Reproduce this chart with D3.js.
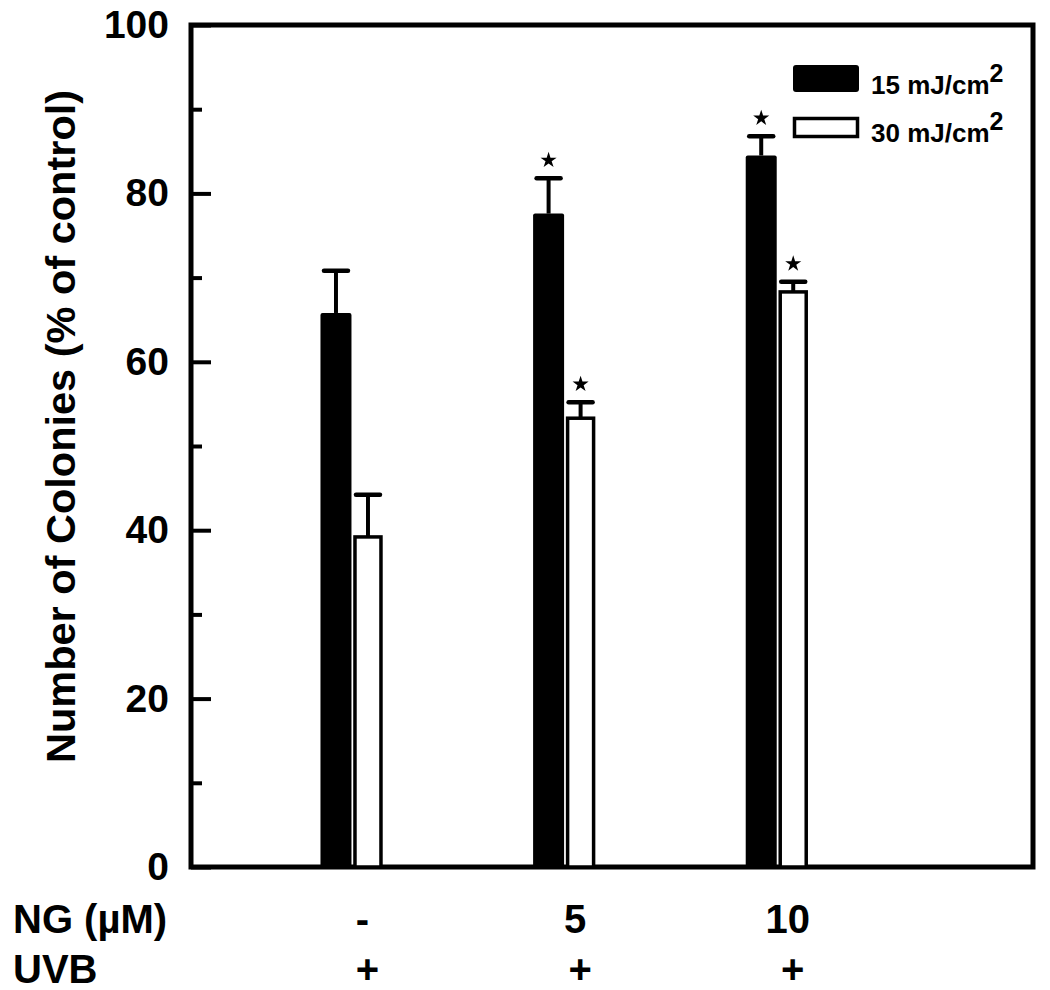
<!DOCTYPE html>
<html>
<head>
<meta charset="utf-8">
<script src="https://cdn.jsdelivr.net/npm/d3@7"></script>
<style>
  html, body { margin: 0; padding: 0; background: #fff; }
  svg { display: block; font-family: "Liberation Sans", Arial, sans-serif; font-weight: bold; }
</style>
</head>
<body>
<svg id="chart" width="1050" height="990"></svg>
<script>
// ---- data ----
const categories = ["-", "5", "10"];          // NG (µM)
const uvbLabels = ["+", "+", "+"];
const series = ["15 mJ/cm", "30 mJ/cm"];
const dose15 = [65.8, 77.6, 84.5];
const dose15Err = [5.0, 4.2, 2.3];
const dose30 = [39.2, 53.3, 68.3];
const dose30Err = [5.0, 1.9, 1.2];
const dose15Sig = [false, true, true];
const dose30Sig = [false, true, true];
const yMajorTicks = [0, 20, 40, 60, 80, 100];
const yMinorTicks = [10, 30, 50, 70, 90];

// ---- layout ----
const svg = d3.select("#chart");
const plotL = 191, plotR = 1033, plotT = 25, plotB = 867;

const y = d3.scaleLinear().domain([0, 100]).range([plotB, plotT]);
const x = d3.scaleLinear().domain([-0.75, 3.21]).range([plotL, plotR]);

// frame
svg.append("rect")
  .attr("x", plotL).attr("y", plotT)
  .attr("width", plotR - plotL).attr("height", plotB - plotT)
  .attr("fill", "none").attr("stroke", "#000").attr("stroke-width", 5);

// y axis major ticks + labels (inward ticks)
const yAxis = d3.axisLeft(y).tickValues(yMajorTicks).tickSize(-20).tickPadding(22).tickFormat(d3.format("d"));
const gy = svg.append("g").attr("transform", `translate(${plotL},0)`).call(yAxis);
gy.select(".domain").remove();
gy.selectAll(".tick line").attr("stroke", "#000").attr("stroke-width", 4);
gy.selectAll(".tick text").attr("font-size", 39).attr("font-weight", "bold")
  .attr("font-family", "'Liberation Sans', Arial, sans-serif").attr("fill", "#000");

const yMinor = d3.axisLeft(y).tickValues(yMinorTicks).tickSize(-11).tickFormat("");
const gm = svg.append("g").attr("transform", `translate(${plotL},0)`).call(yMinor);
gm.select(".domain").remove();
gm.selectAll(".tick line").attr("stroke", "#000").attr("stroke-width", 4);

// y title
svg.append("text")
  .attr("transform", `translate(75, ${(90 + 763) / 2}) rotate(-90)`)
  .attr("text-anchor", "middle")
  .attr("font-size", 41.5)
  .text("Number of Colonies (% of control)");

// bars
const blackX0 = -30, blackW = 31, whiteX0 = 4.5, whiteW = 26;
const g = svg.append("g");
categories.forEach((c, i) => {
  const cx = x(i);
  g.append("rect")
    .attr("x", cx + blackX0).attr("y", y(dose15[i]))
    .attr("width", blackW).attr("height", y(0) - y(dose15[i]))
    .attr("rx", 2).attr("fill", "#000");
  g.append("rect")
    .attr("x", cx + whiteX0).attr("y", y(dose30[i]))
    .attr("width", whiteW).attr("height", y(0) - y(dose30[i]))
    .attr("fill", "#fff").attr("stroke", "#000").attr("stroke-width", 3.5);
});

// error bars and stars
function errBar(cxm, v, e, sig) {
  g.append("line").attr("x1", cxm).attr("x2", cxm)
    .attr("y1", y(v)).attr("y2", y(v + e))
    .attr("stroke", "#000").attr("stroke-width", 4);
  g.append("line").attr("x1", cxm - 12).attr("x2", cxm + 12)
    .attr("y1", y(v + e)).attr("y2", y(v + e))
    .attr("stroke", "#000").attr("stroke-width", 4.5).attr("stroke-linecap", "round");
  if (sig) {
    g.append("path")
      .attr("d", d3.symbol(d3.symbolStar, 80)())
      .attr("transform", `translate(${cxm},${y(v + e) - 18})`)
      .attr("fill", "#000");
  }
}
categories.forEach((c, i) => {
  const cx = x(i);
  errBar(cx + blackX0 + blackW / 2, dose15[i], dose15Err[i], dose15Sig[i]);
  errBar(cx + whiteX0 + whiteW / 2, dose30[i], dose30Err[i], dose30Sig[i]);
});

// bottom labels
svg.append("text").attr("x", 13).attr("y", 933).attr("font-size", 40).text("NG (µM)");
svg.append("text").attr("x", 13).attr("y", 983).attr("font-size", 40).text("UVB");
categories.forEach((c, i) => {
  svg.append("text").attr("x", x(i) + 12).attr("y", 933)
    .attr("text-anchor", "middle").attr("font-size", 40).text(c);
  svg.append("text").attr("x", x(i) + 17).attr("y", 983)
    .attr("text-anchor", "middle").attr("font-size", 40).text(uvbLabels[i]);
});

// legend
const legend = svg.append("g");
legend.append("rect").attr("x", 793).attr("y", 65).attr("width", 66).attr("height", 27)
  .attr("rx", 3).attr("fill", "#000");
legend.append("rect").attr("x", 794.5).attr("y", 118.5).attr("width", 63).attr("height", 18)
  .attr("fill", "#fff").attr("stroke", "#000").attr("stroke-width", 3.5);
[[series[0], 94], [series[1], 142]].forEach(([t, by]) => {
  const tx = legend.append("text").attr("x", 871).attr("y", by).attr("font-size", 26);
  tx.append("tspan").text(t);
  tx.append("tspan").attr("dy", -12).attr("font-size", 25).text("2");
});
</script>
</body>
</html>
